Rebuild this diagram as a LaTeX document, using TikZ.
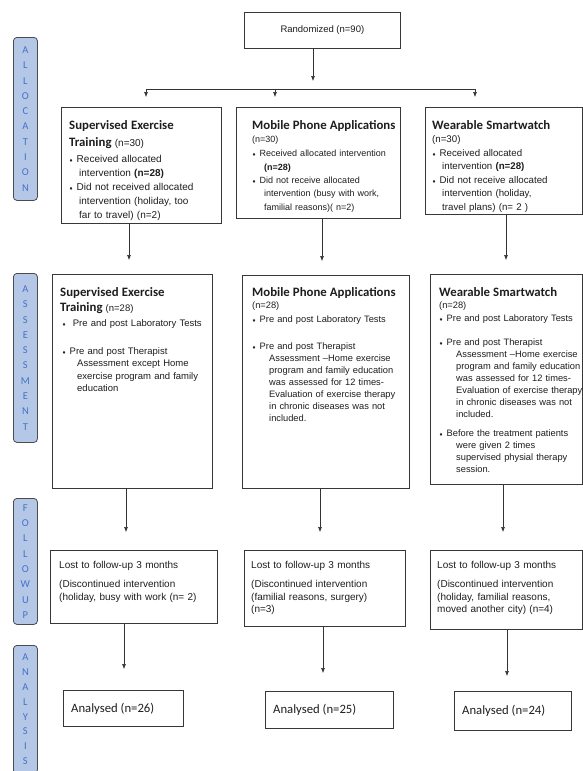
\documentclass[tikz,border=0pt]{standalone}
\usepackage{fontspec}
\setmainfont{Liberation Sans}
\newfontfamily\calfont{Carlito}
\newfontfamily\djvfont{DejaVu Sans}
\usetikzlibrary{arrows.meta}
\definecolor{sidefill}{RGB}{180,199,231}
\definecolor{sidetext}{RGB}{68,114,196}
\definecolor{boxline}{RGB}{55,55,55}
\definecolor{ink}{RGB}{30,30,30}
\newcommand\hd{\calfont\bfseries\fontsize{12.8}{14}\selectfont}
\newcommand\bulmark{{\djvfont\fontsize{4.5}{5}\selectfont ♦}\hspace{3.5pt}}
\newcommand\hind[1][10pt]{\hspace*{#1}}
\begin{document}
\begin{tikzpicture}[x=1pt,y=-1pt,
  box/.style={draw=boxline, line width=0.75pt, inner sep=0pt, anchor=north west},
  txt/.style={anchor=base west, inner sep=0pt, align=left, text width=#1, text=ink},
  txt/.default=145pt,
  side/.style={draw=black!70, fill=sidefill, rounded corners=3.5pt, line width=0.8pt,
    anchor=north west, minimum width=24pt, inner sep=0pt, align=center, text=sidetext,
    font=\calfont\fontsize{10.5}{15.3}\selectfont},
  arr/.style={draw=black!80, line width=0.6pt, -{Latex[length=5pt,width=4pt]}},
  ln/.style={draw=black!80, line width=0.6pt},
  ana/.style={anchor=west, inner sep=0pt, text=ink, font=\calfont\fontsize{12.7}{14}\selectfont}
]
\fill[white] (0,0) rectangle (582,771);
\useasboundingbox (0,0) rectangle (582,771);

% side labels
\node[side, minimum height=163pt] (s1) at (13,37) {A\\L\\L\\O\\C\\A\\T\\I\\O\\N};
\node[side, minimum height=169pt] (s2) at (13,273) {A\\S\\S\\E\\S\\S\\M\\E\\N\\T};
\node[side, minimum height=126pt] (s3) at (13,498) {F\\O\\L\\L\\O\\W\\U\\P};
\node[side, minimum height=128pt, font=\calfont\fontsize{10.5}{14.8}\selectfont] (s4) at (13,645) {A\\N\\A\\L\\Y\\S\\I\\S};

% randomized
\node[box, minimum width=156pt, minimum height=36pt, text=ink,
  font=\fontsize{9.5}{11}\selectfont] (r) at (244,12) {Randomized (n=90)};
\coordinate (sp) at (313,81);
\draw[arr] (r.south -| sp) -- (sp);
\coordinate (c1) at (146,89);
\coordinate (c2) at (275,89);
\coordinate (c3) at (475,89);
\draw[ln] (c1) -- (c3);

% allocation boxes
\node[box, minimum width=160pt, minimum height=116pt] (a1) at (61,107) {};
\node[box, minimum width=164pt, minimum height=111pt] (a2) at (236,107) {};
\node[box, minimum width=156.5pt, minimum height=107pt] (a3) at (425,107) {};
\draw[arr, shorten >=10pt] (c1) -- (c1 |- a1.north);
\draw[arr, shorten >=10pt] (c2) -- (c2 |- a2.north);
\draw[arr, shorten >=10pt] (c3) -- (c3 |- a3.north);

\node[txt, font=\fontsize{10}{14}\selectfont] (a1t) at (69,129.5) {%
{\hd Supervised Exercise}\\[3pt]
{\hd Training} (n=30)\\[1.5pt]
\bulmark Received allocated\\
\hind intervention \textbf{(n=28)}\\
\bulmark Did not received allocated\\
\hind intervention (holiday, too\\
\hind far to travel) (n=2)};

\node[txt, font=\fontsize{9}{13.3}\selectfont] (a2t) at (252,129.5) {%
{\hd Mobile Phone Applications}\\[-0.5pt]
(n=30)\\[1.2pt]
\bulmark Received allocated intervention\\
\hind[9pt] \textbf{(n=28)}\\
\bulmark Did not receive allocated\\
\hind[9pt] intervention (busy with work,\\
\hind[9pt] familial reasons)( n=2)};

\node[txt, font=\fontsize{9.7}{13.5}\selectfont] (a3t) at (432,129.5) {%
{\hd Wearable Smartwatch}\\[-0.5pt]
(n=30)\\
\bulmark Received allocated\\
\hind intervention \textbf{(n=28)}\\
\bulmark Did not receive allocated\\
\hind intervention (holiday,\\
\hind travel plans) (n= 2 )};

% assessment boxes
\node[box, minimum width=160pt, minimum height=214pt] (b1) at (52,274) {};
\node[box, minimum width=167pt, minimum height=213pt] (b2) at (242,275) {};
\node[box, minimum width=151.5pt, minimum height=210pt] (b3) at (430,274) {};
\coordinate (x1) at (129,0);
\coordinate (x2) at (322,0);
\coordinate (x3) at (506,0);
\draw[arr, shorten >=14pt] (a1.south -| x1) -- (b1.north -| x1);
\draw[arr, shorten >=14pt] (a2.south -| x2) -- (b2.north -| x2);
\draw[arr, shorten >=14pt] (a3.south -| x3) -- (b3.north -| x3);

\node[txt=148pt, font=\fontsize{9.5}{12.3}\selectfont] (b1t) at (60,296.5) {%
{\hd Supervised Exercise}\\[2.7pt]
{\hd Training} (n=28)\\[2.7pt]
\hind[2pt]\bulmark\ Pre and post Laboratory Tests\\[15.7pt]
\hind[2pt]\bulmark Pre and post Therapist\\
\hind[17pt]Assessment except Home\\
\hind[17pt]exercise program and family\\
\hind[17pt]education};

\node[txt=150pt, font=\fontsize{9.3}{12}\selectfont] (b2t) at (252,296.5) {%
{\hd Mobile Phone Applications}\\
(n=28)\\[2pt]
\bulmark Pre and post Laboratory Tests\\[15pt]
\bulmark Pre and post Therapist\\
\hind[17pt]Assessment --Home exercise\\
\hind[17pt]program and family education\\
\hind[17pt]was assessed for 12 times-\\
\hind[17pt]Evaluation of exercise therapy\\
\hind[17pt]in chronic diseases was not\\
\hind[17pt]included.};

\node[txt=160pt, font=\fontsize{9.3}{12}\selectfont] (b3t) at (439,296.5) {%
{\hd Wearable Smartwatch}\\
(n=28)\\[1pt]
\bulmark Pre and post Laboratory Tests\\[12pt]
\bulmark Pre and post Therapist\\
\hind[17pt]Assessment --Home exercise\\
\hind[17pt]program and family education\\
\hind[17pt]was assessed for 12 times-\\
\hind[17pt]Evaluation of exercise therapy\\
\hind[17pt]in chronic diseases was not\\
\hind[17pt]included.\\[7pt]
\bulmark Before the treatment patients\\
\hind[17pt]were given 2 times\\
\hind[17pt]supervised physial therapy\\
\hind[17pt]session.};

% follow-up boxes
\node[box, minimum width=167pt, minimum height=73pt] (f1) at (50,550) {};
\node[box, minimum width=161pt, minimum height=76pt] (f2) at (244,550) {};
\node[box, minimum width=151.5pt, minimum height=79pt] (f3) at (430,550) {};
\coordinate (y1) at (126,0);
\coordinate (y2) at (320,0);
\coordinate (y3) at (503,0);
\draw[arr, shorten >=18pt] (b1.south -| y1) -- (f1.north -| y1);
\draw[arr, shorten >=18pt] (b2.south -| y2) -- (f2.north -| y2);
\draw[arr, shorten >=18pt] (b3.south -| y3) -- (f3.north -| y3);

\node[txt=155pt, font=\fontsize{10}{12.6}\selectfont] (f1t) at (59,568.5) {%
Lost to follow-up 3 months\\[6.4pt]
(Discontinued intervention\\
(holiday, busy with work (n= 2)};
\node[txt=150pt, font=\fontsize{10}{12.6}\selectfont] (f2t) at (251,568.5) {%
Lost to follow-up 3 months\\[6.4pt]
(Discontinued intervention\\
(familial reasons, surgery)\\
(n=3)};
\node[txt=145pt, font=\fontsize{10}{12.6}\selectfont] (f3t) at (437,568.5) {%
Lost to follow-up 3 months\\[6.4pt]
(Discontinued intervention\\
(holiday, familial reasons,\\
moved another city) (n=4)};

% analysis boxes
\node[box, minimum width=120pt, minimum height=36pt] (n1) at (63,690) {};
\node[box, minimum width=128pt, minimum height=37pt] (n2) at (265,691) {};
\node[box, minimum width=117pt, minimum height=39pt] (n3) at (454,691) {};
\coordinate (z1) at (124,0);
\coordinate (z2) at (323,0);
\coordinate (z3) at (507,0);
\draw[arr, shorten >=21pt] (f1.south -| z1) -- (n1.north -| z1);
\draw[arr, shorten >=18pt] (f2.south -| z2) -- (n2.north -| z2);
\draw[arr, shorten >=15pt] (f3.south -| z3) -- (n3.north -| z3);
\node[ana] (n1t) at ([xshift=8pt]n1.west) {Analysed (n=26)};
\node[ana] (n2t) at ([xshift=8pt]n2.west) {Analysed (n=25)};
\node[ana] (n3t) at ([xshift=8pt]n3.west) {Analysed (n=24)};
\end{tikzpicture}
\end{document}
